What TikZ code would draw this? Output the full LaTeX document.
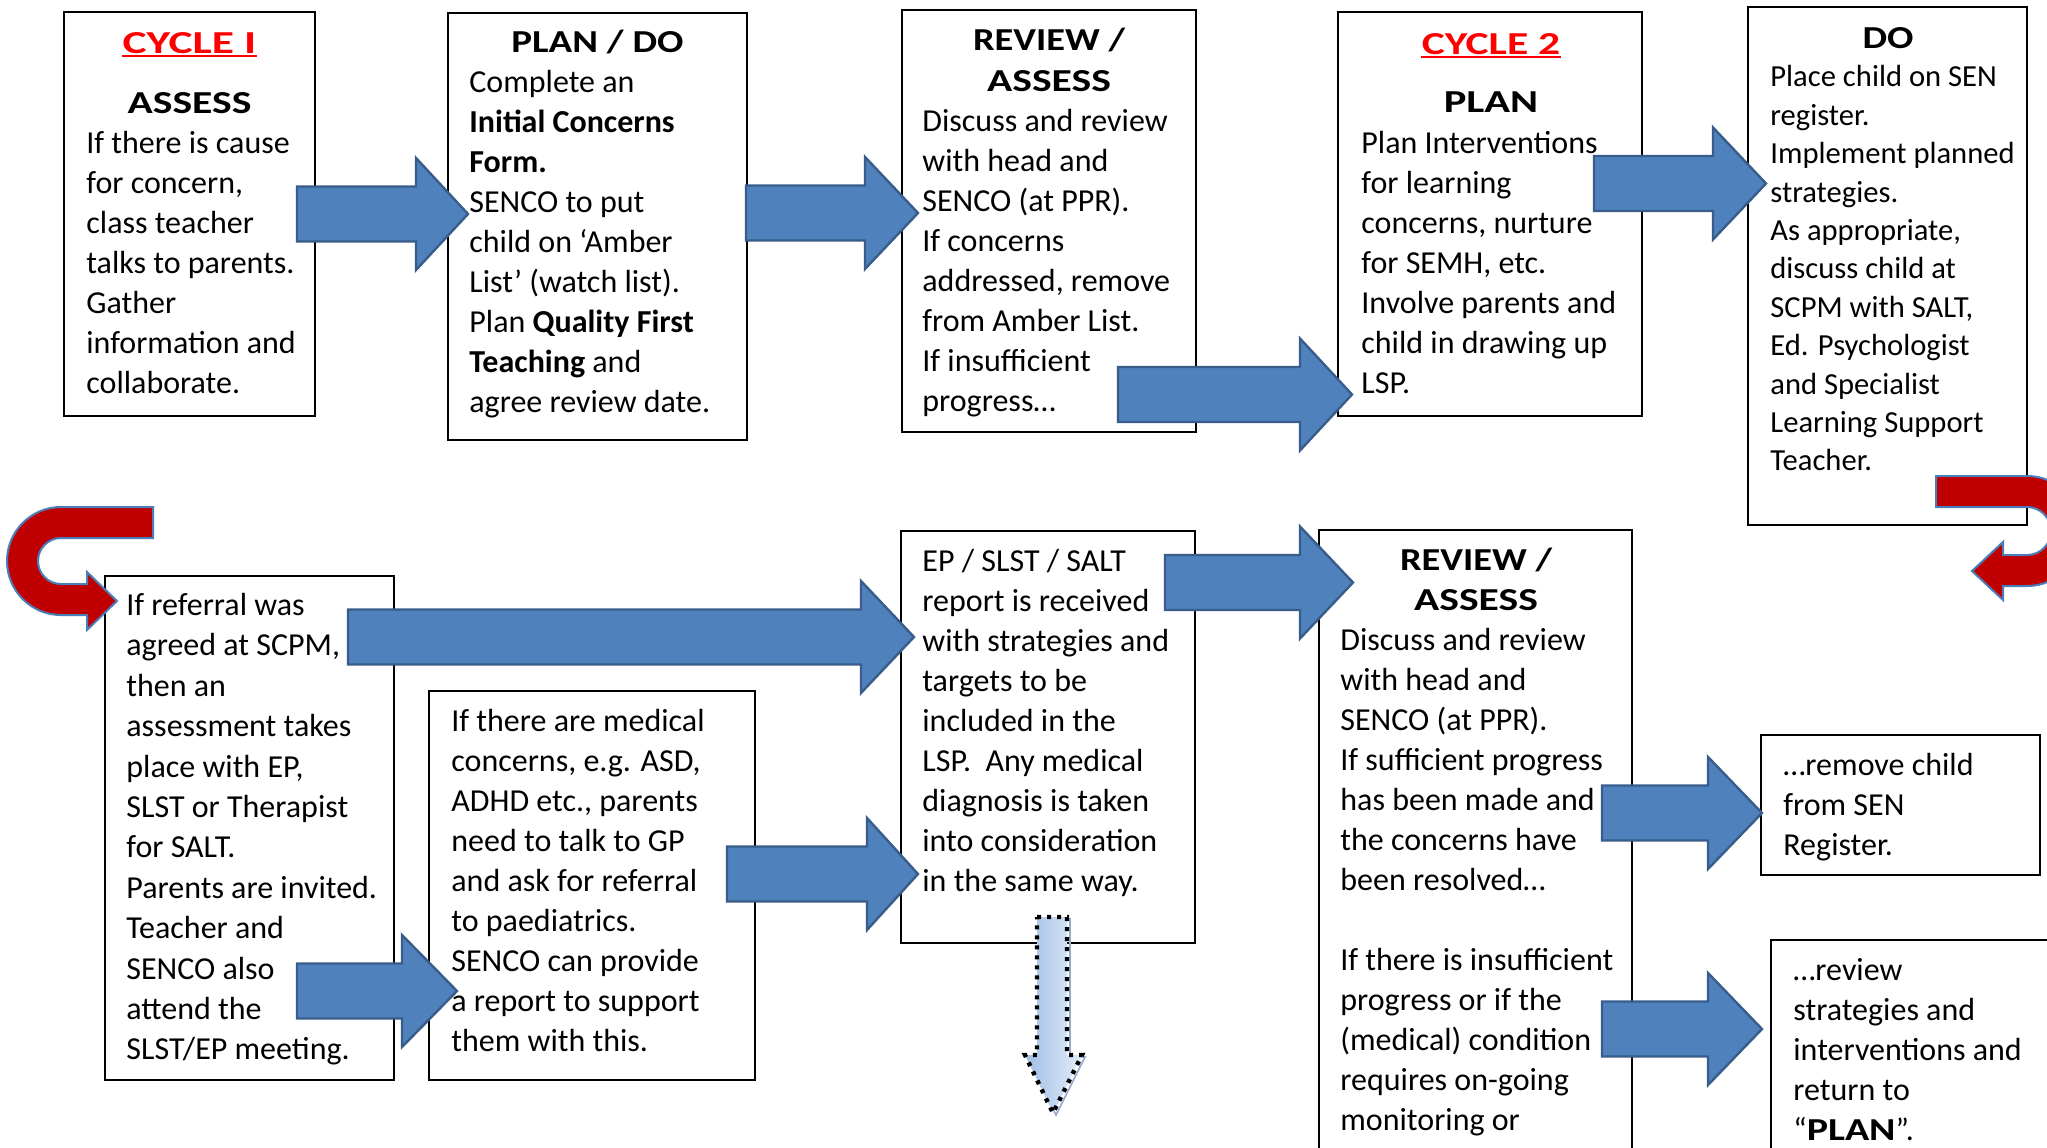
\documentclass[tikz,border=0pt]{standalone}
\usepackage{fontspec}
\setmainfont{Carlito}
\usetikzlibrary{fit}
\definecolor{arrowfill}{RGB}{79,129,189}
\definecolor{arrowline}{RGB}{56,93,138}
\definecolor{redfill}{RGB}{192,0,0}
\definecolor{redline}{RGB}{74,126,187}
\definecolor{cycred}{RGB}{255,0,0}
\definecolor{dotA}{RGB}{160,192,230}
\definecolor{dotB}{RGB}{226,236,248}
\definecolor{dotshadow}{RGB}{150,172,204}
\newcommand\blockarr[4]{%
  \draw[blockarrow] (#1,{#4-27.5}) -- (#2,{#4-27.5}) -- (#2,{#4-56}) -- (#3,#4)
     -- (#2,{#4+56}) -- (#2,{#4+27.5}) -- (#1,{#4+27.5}) -- cycle;}
\newcommand\wide[2]{\scalebox{#1}[1]{#2}}
\tikzset{
  box/.style={draw=black, line width=1.1pt, fill=white, inner sep=0pt},
  body/.style={anchor=north west, inner sep=0pt, align=left, font=\fontsize{16}{20}\selectfont},
  bodysm/.style={anchor=north west, inner sep=0pt, align=left, font=\fontsize{15.3}{19.2}\selectfont},
  bodywide/.style={anchor=north west, inner sep=0pt, align=left, font=\fontsize{16}{20.2}\selectfont},
  title/.style={anchor=base, inner sep=0pt, font=\fontsize{16}{20}\selectfont\bfseries},
  cycle/.style={title, text=cycred},
  blockarrow/.style={fill=arrowfill, draw=arrowline, line width=1.2pt, line join=miter},
  uturn/.style={fill=redfill, draw=redline, line width=1pt, line join=miter},
}
\begin{document}
\begin{tikzpicture}[x=0.5pt, y=-0.5pt]
\useasboundingbox (0,0) rectangle (2047,1147);
\fill[white] (0,0) rectangle (2047,1147);
\begin{scope}
\clip (0,0) rectangle (2047,1147);
% ---------------- boxes ----------------
\node[box, fit={(64,12) (315,416)}] (b1) {};
\node[box, fit={(448,13) (747,440)}] (b2) {};
\node[box, fit={(902,10) (1196,432)}] (b3) {};
\node[box, fit={(1338,12) (1642,416)}] (b4) {};
\node[box, fit={(1748,7) (2027,525)}] (b5) {};
\node[box, fit={(105,576) (394,1080)}] (b6) {};
\node[box, fit={(429,691) (755,1080)}] (b7) {};
\node[box, fit={(901,531) (1195,943)}] (b8) {};
\node[box, fit={(1319,530) (1632,1170)}] (b9) {};
\node[box, fit={(1761,735) (2040,875)}] (b10) {};
\node[box, fit={(1771,940) (2070,1170)}] (b11) {};
% ---------------- texts ----------------
\node[cycle] (c1) at (189.5,53) {\wide{1.42}{CYCLE I}};
\draw[cycred, line width=1.2pt] ([yshift=-1.4pt]c1.base west) -- ([yshift=-1.4pt]c1.base east);
\node[title] (h1) at (189.5,113) {\wide{1.3}{ASSESS}};
\node[body] (t1) at (86,123) {\rule{0pt}{15pt}If there is cause\\for concern,\\class teacher\\talks to parents.\\Gather\\information and\\collaborate.};

\node[title] (h2) at (597.5,52) {\wide{1.22}{PLAN / DO}};
\node[body] (t2) at (469,62) {\rule{0pt}{15pt}Complete an\\\textbf{Initial Concerns}\\\textbf{Form.}\\SENCO to put\\child on ‘Amber\\List’ (watch list).\\Plan \textbf{Quality First}\\\textbf{Teaching} and\\agree review date.};

\node[title] (h3a) at (1049,50.5) {\wide{1.2}{REVIEW /}};
\node[title] (h3b) at (1049,91) {\wide{1.3}{ASSESS}};
\node[body] (t3) at (922,101) {\rule{0pt}{15pt}Discuss and review\\with head and\\SENCO (at PPR).\\If concerns\\addressed, remove\\from Amber List.\\If insufficient\\progress…};

\node[cycle] (c2) at (1491,54) {\wide{1.36}{CYCLE 2}};
\draw[cycred, line width=1.2pt] ([yshift=-1.4pt]c2.base west) -- ([yshift=-1.4pt]c2.base east);
\node[title] (h4) at (1491,112) {\wide{1.33}{PLAN}};
\node[body] (t4) at (1361,123) {\rule{0pt}{15pt}Plan Interventions\\for learning\\concerns, nurture\\for SEMH, etc.\\Involve parents and\\child in drawing up\\LSP.};

\node[title] (h5) at (1888,48) {\wide{1.22}{DO}};
\node[bodysm] (t5) at (1770,56.5) {\rule{0pt}{15pt}Place child on SEN\\register.\\Implement planned\\strategies.\\As appropriate,\\discuss child at\\SCPM with SALT,\\Ed. Psychologist\\and Specialist\\Learning Support\\Teacher.};

\node[bodywide] (t6) at (126,585) {\rule{0pt}{15pt}If referral was\\agreed at SCPM,\\then an\\assessment takes\\place with EP,\\SLST or Therapist\\for SALT.\\Parents are invited.\\Teacher and\\SENCO also\\attend the\\SLST/EP meeting.};

\node[body] (t7) at (451,701) {\rule{0pt}{15pt}If there are medical\\concerns, e.g. ASD,\\ADHD etc., parents\\need to talk to GP\\and ask for referral\\to paediatrics.\\SENCO can provide\\a report to support\\them with this.};

\node[body] (t8) at (922,541.5) {\rule{0pt}{15pt}EP / SLST / SALT\\report is received\\with strategies and\\targets to be\\included in the\\LSP.\ \ Any medical\\diagnosis is taken\\into consideration\\in the same way.};

\node[title] (h9a) at (1476,570) {\wide{1.2}{REVIEW /}};
\node[title] (h9b) at (1476,610) {\wide{1.3}{ASSESS}};
\node[body] (t9) at (1340,620) {\rule{0pt}{15pt}Discuss and review\\with head and\\SENCO (at PPR).\\If sufficient progress\\has been made and\\the concerns have\\been resolved…\\[20pt]If there is insufficient\\progress or if the\\(medical) condition\\requires on-going\\monitoring or};

\node[body] (t10) at (1783,745) {\rule{0pt}{15pt}…remove child\\from SEN\\Register.};

\node[body] (t11) at (1793,950) {\rule{0pt}{15pt}…review\\strategies and\\interventions and\\return to\\“\textbf{\wide{1.25}{PLAN}}”.};

% ---------------- block arrows ----------------
\blockarr{297}{416}{468}{214}
\blockarr{746}{865}{918}{213}
\blockarr{1118}{1300}{1352}{394.5}
\blockarr{1594}{1713}{1766}{183.5}
\blockarr{348}{861}{914}{637}
\blockarr{297}{402}{457}{991}
\blockarr{727}{867}{918}{874}
\blockarr{1165}{1300}{1353}{582.5}
\blockarr{1602}{1708}{1762}{813}
\blockarr{1602}{1708}{1762}{1029}

% ---------------- dotted down arrow ----------------
\draw[dotshadow, line width=0.8pt, line join=miter] (1040,919) -- (1070,919) -- (1070,1057) -- (1085,1057) -- (1056,1115) -- (1028,1057) -- (1040,1057) -- cycle;
\draw[left color=dotA, right color=dotB, draw=black, line width=2.2pt, dash pattern=on 2pt off 3pt, line join=miter]
  (1037,917) -- (1067,917) -- (1067,1055) -- (1082,1055) -- (1053,1113) -- (1025,1055) -- (1037,1055) -- cycle;

% ---------------- red U-turn arrows ----------------
\draw[uturn] (1936,476) -- (2027,476) arc[start angle=-90, end angle=90, radius=55]
  -- (2003,586) -- (2003,600) -- (1972,571) -- (2003,542) -- (2003,555) -- (2027,555)
  arc[start angle=90, end angle=-90, radius=24] -- (1936,507) -- cycle;
\draw[uturn] (153,507) -- (61,507) arc[start angle=-90, end angle=-270, radius=54]
  -- (87,615) -- (87,630) -- (117,601) -- (87,572) -- (87,584) -- (61,584)
  arc[start angle=90, end angle=270, radius=23] -- (153,538) -- cycle;
\end{scope}
\end{tikzpicture}
\end{document}
